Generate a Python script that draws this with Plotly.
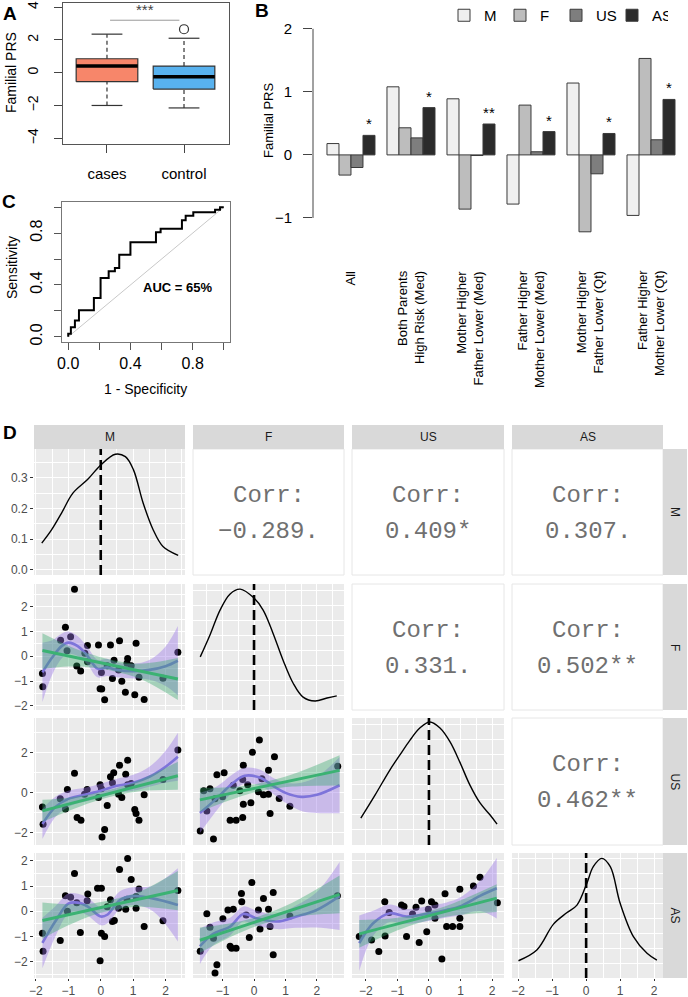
import plotly.graph_objects as go

W, H = 688, 997
FONT = "Liberation Sans, Arial, sans-serif"
MONO = "Liberation Mono, Courier New, monospace"

# ---------------- panel A: boxplot of familial PRS ----------------
a_groups = ["cases", "control"]
a_pos = [0, 1]
a_q1 = [-0.55, -1.0]
a_median = [0.4, -0.25]
a_q3 = [0.85, 0.4]
a_whisk_lo = [-2.0, -2.15]
a_whisk_hi = [2.35, 2.1]
a_outliers = [[], [2.65]]
a_colors = ["#F7866A", "#58B2EF"]
a_sig_span = [0.04, 0.94]
a_sig_y = 3.2
a_sig_text = "***"

# ---------------- panel B: grouped bars ----------------
b_groups = ["All", "Both Parents<br>High Risk (Med)", "Mother Higher<br>Father Lower (Med)",
            "Father Higher<br>Mother Lower (Med)", "Mother Higher<br>Father Lower (Qt)",
            "Father Higher<br>Mother Lower (Qt)"]
b_series = ["M", "F", "US", "AS"]
b_M = [0.18, 1.08, 0.89, -0.78, 1.14, -0.96]
b_F = [-0.32, 0.43, -0.86, 0.79, -1.22, 1.53]
b_US = [-0.20, 0.27, -0.01, 0.05, -0.30, 0.24]
b_AS = [0.31, 0.75, 0.49, 0.37, 0.34, 0.88]
b_sig = ["*", "*", "**", "*", "*", "*"]
b_colors = ["#F0F0F0", "#BDBDBD", "#7E7E7E", "#2B2B2B"]

# ---------------- panel C: ROC ----------------
roc_fpr = [0, 0.017, 0.043, 0.069, 0.165, 0.208, 0.26, 0.30, 0.328, 0.40, 0.564, 0.594,
           0.731, 0.755, 0.804, 0.944, 0.976, 1.0]
roc_tpr = [0, 0.023, 0.074, 0.126, 0.205, 0.30, 0.454, 0.505, 0.53, 0.633, 0.73, 0.807,
           0.833, 0.90, 0.933, 0.96, 0.98, 1.0]
chance = [0, 1]
auc_label = "AUC = 65%"

# ---------------- panel D: pairs plot ----------------
d_vars = ["M", "F", "US", "AS"]
corr_text = {(0, 1): "−0.289.", (0, 2): "0.409*", (0, 3): "0.307.",
             (1, 2): "0.331.", (1, 3): "0.502**", (2, 3): "0.462**"}
diag_ref = [0.0, 0.0, 0.0, 0.0]

# densities on the diagonal
dm_x = [-1.82, -1.52, -1.21, -0.86, -0.40, 0.0, 0.45, 0.76, 1.01, 1.31, 1.62, 1.92, 2.39]
dm_y = [0.087, 0.13, 0.185, 0.25, 0.295, 0.342, 0.377, 0.369, 0.326, 0.217, 0.13, 0.076, 0.047]
df_x = [-1.71, -1.40, -1.08, -0.76, -0.44, 0.0, 0.29, 0.6, 0.92, 1.24, 1.56, 1.94, 2.32, 2.63]
df_y = [0.177, 0.25, 0.333, 0.387, 0.403, 0.373, 0.333, 0.257, 0.167, 0.09, 0.043, 0.03, 0.04, 0.047]
du_x = [-2.16, -1.71, -1.24, -0.92, -0.6, -0.29, 0.03, 0.35, 0.67, 0.98, 1.3, 1.62, 1.94, 2.16]
du_y = [0.089, 0.165, 0.248, 0.298, 0.347, 0.387, 0.407, 0.387, 0.341, 0.274, 0.198, 0.139, 0.099, 0.069]
da_x = [-1.99, -1.45, -0.96, -0.57, -0.27, 0.02, 0.21, 0.46, 0.71, 1.0, 1.39, 1.79, 2.08]
da_y = [0.058, 0.094, 0.181, 0.219, 0.245, 0.318, 0.374, 0.402, 0.374, 0.251, 0.139, 0.083, 0.06]

# F vs M
fm_px = [-0.81, -1.09, -1.24, -0.93, -1.04, -1.80, -1.79, -0.74, -0.62, -0.41, -0.49, -0.41, -0.07,
         0.30, 0.58, 1.09, 0.41, 0.20, 0.02, 0.36, -0.02, 0.03, 0.12, 0.55, 0.65, 0.83, 0.81, 0.94,
         0.76, 1.05, 1.18, 1.34, 1.92, 2.38]
fm_py = [2.71, 1.17, 0.65, 0.79, 0.22, -0.70, -1.23, -0.39, -0.59, 0.44, 0.12, -0.22, 0.46,
         0.46, 0.63, 0.53, -0.16, -0.38, -0.66, -0.90, -1.31, -1.32, -1.76, -0.55, -1.01, -0.09, -0.28, -0.38,
         -1.45, -1.55, -0.85, -1.75, -0.89, 0.16]
fm_lm_x = [-1.8, 2.38]
fm_lm_y = [0.23, -0.92]
fm_band_x = [-1.8, -1.0, -0.2, 0.4, 1.2, 2.38]
fm_band_lo = [-0.51, -0.41, -0.46, -0.60, -0.90, -1.77]
fm_band_hi = [0.93, 0.43, 0.04, -0.16, -0.30, -0.07]
fm_lo_x = [-1.8, -1.5, -1.2, -1.0, -0.7, -0.4, -0.1, 0.2, 0.5, 1.0, 1.5, 2.0, 2.38]
fm_lo_y = [-0.65, -0.05, 0.42, 0.55, 0.4, 0.0, -0.5, -0.45, -0.55, -0.6, -0.55, -0.4, -0.18]
fm_lo_lo = [-1.85, -0.75, -0.08, 0.10, 0.0, -0.35, -0.85, -0.8, -0.85, -0.9, -0.95, -1.2, -1.58]
fm_lo_hi = [0.55, 0.65, 0.92, 1.0, 0.8, 0.35, -0.15, -0.1, -0.25, -0.3, -0.15, 0.4, 1.22]

# US vs M
um_px = [2.38, 0.58, 0.83, -0.81, 0.30, 0.40, 0.77, -1.03, -1.25, -1.80, -1.78, -1.09, -0.73, -0.61,
         -0.42, -0.50, -0.02, 0.02, -0.07, 0.20, 0.12, 0.04, 0.36, 0.55, 0.65, 0.83, 0.94, 1.05, 1.09,
         1.18, 1.34, 1.92]
um_py = [2.13, 1.38, 1.62, 0.97, 0.80, 1.00, 0.93, 0.17, -0.30, -0.70, -1.57, -0.80, -1.23, -1.37,
         0.17, -0.07, 0.40, 0.20, -0.23, -0.63, -1.83, -2.20, 0.50, -0.07, -0.23, 0.40, 0.47, -0.83, -1.03,
         -1.37, -0.10, 0.67]
um_lm_x = [-1.8, 2.38]
um_lm_y = [-0.9, 0.85]
um_band_x = [-1.8, -1.0, -0.2, 0.4, 1.2, 2.38]
um_band_lo = [-1.45, -0.9, -0.43, -0.16, 0.08, 0.15]
um_band_hi = [-0.35, -0.24, -0.03, 0.2, 0.64, 1.55]
um_lo_x = [-1.8, -1.4, -1.0, -0.5, 0.0, 0.5, 1.0, 1.5, 2.0, 2.38]
um_lo_y = [-1.55, -0.7, -0.3, -0.1, 0.1, 0.35, 0.5, 0.8, 1.3, 1.8]
um_lo_lo = [-2.3, -1.2, -0.7, -0.45, -0.25, 0.0, 0.1, 0.3, 0.5, 0.6]
um_lo_hi = [-0.8, -0.2, 0.1, 0.25, 0.45, 0.7, 0.9, 1.3, 2.1, 3.0]

# AS vs M
am_px = [0.83, 0.58, -0.81, 0.94, -0.10, 0.02, -1.09, -0.93, -0.40, -0.42, -0.74, 0.30, 1.18, 2.38,
         0.81, 1.09, -1.03, 0.20, 0.55, 0.77, 1.09, 0.36, 0.42, 1.34, 1.92, -1.80, -0.63, 0.02, 0.12,
         -1.25, -1.78, -0.02]
am_py = [2.09, 1.66, 1.50, 1.26, 0.91, 0.91, 0.61, 0.55, 0.68, 0.42, 0.34, 0.45, 0.88, 0.82,
         0.47, 0.58, 0.00, 0.18, 0.12, 0.08, 0.12, -0.41, -0.37, -0.61, -0.38, -0.87, -0.84, -0.87, -1.00,
         -1.16, -1.59, -1.97]
am_lm_x = [-1.8, 2.38]
am_lm_y = [-0.37, 0.82]
am_band_x = [-1.8, -1.0, -0.2, 0.4, 1.2, 2.38]
am_band_lo = [-1.09, -0.56, -0.14, 0.05, 0.18, 0.04]
am_band_hi = [0.35, 0.28, 0.32, 0.47, 0.78, 1.6]
am_lo_x = [-1.8, -1.4, -1.0, -0.7, -0.4, 0.0, 0.2, 0.6, 1.0, 1.6, 2.38]
am_lo_y = [-1.26, -0.4, 0.3, 0.34, 0.18, -0.21, -0.14, 0.45, 0.6, 0.51, 0.25]
am_lo_lo = [-2.26, -1.0, -0.1, -0.01, -0.17, -0.56, -0.49, 0.1, 0.25, 0.01, -1.2]
am_lo_hi = [-0.26, 0.2, 0.7, 0.69, 0.53, 0.14, 0.21, 0.8, 0.95, 1.01, 1.7]

# US vs F
uf_px = [0.17, -0.05, 0.65, -0.34, 0.46, 2.66, -0.66, -0.36, -0.34, -0.76, -0.57, -0.36, 0.14, 0.46,
         0.51, 0.80, 1.14, -1.71, -1.50, -1.40, -1.24, -1.18, -1.00, -0.95, -1.29, -1.60, -0.20, 0.30,
         0.25, -0.10, -0.45]
uf_py = [2.63, 2.02, 1.80, 1.38, 1.13, 1.33, 0.38, 0.67, -0.57, -1.37, -1.37, -1.23, 0.05, -0.07,
         -1.03, -0.28, -0.67, -1.90, -0.90, 0.20, -0.30, 0.90, -0.20, 1.00, -2.30, 0.10, 0.40, -0.10,
         0.70, -0.50, 0.10]
uf_lm_x = [-1.72, 2.72]
uf_lm_y = [-0.35, 1.12]
uf_band_x = [-1.72, -1.0, -0.2, 0.3, 1.2, 2.72]
uf_band_lo = [-0.95, -0.49, -0.07, 0.12, 0.31, 0.37]
uf_band_hi = [0.25, 0.27, 0.37, 0.52, 0.91, 1.87]
uf_lo_x = [-1.72, -1.2, -0.7, -0.3, 0.2, 0.6, 1.0, 1.5, 2.0, 2.72]
uf_lo_y = [-1.0, -0.3, 0.45, 0.85, 0.75, 0.35, 0.0, -0.2, -0.1, 0.38]
uf_lo_lo = [-2.0, -0.9, 0.0, 0.45, 0.35, -0.05, -0.5, -0.9, -1.0, -1.02]
uf_lo_hi = [0.0, 0.3, 0.9, 1.25, 1.15, 0.75, 0.5, 0.5, 0.8, 1.78]

# AS vs F
af_px = [-0.07, 0.61, 2.65, -0.39, -0.66, 0.14, 0.46, 0.19, -0.15, -0.71, -0.57, 0.61, 0.51, 1.14,
         -0.25, -1.71, -1.50, -1.40, -1.24, -1.18, -0.76, -0.83, -0.99, -1.29, 0.30, -0.40]
af_py = [1.14, 0.74, 0.61, 0.38, 0.08, 0.05, 0.08, -0.71, -1.04, -1.47, -1.47, -1.73, -0.61, -0.19,
         -0.15, -1.59, -0.10, -0.64, -2.45, -2.12, -1.39, 0.05, -0.30, -1.07, 0.50, 0.70]
af_lm_x = [-1.72, 2.72]
af_lm_y = [-1.15, 0.67]
af_band_x = [-1.72, -1.0, -0.2, 0.3, 1.2, 2.72]
af_band_lo = [-1.65, -1.18, -0.73, -0.5, -0.23, -0.08]
af_band_hi = [-0.65, -0.53, -0.33, -0.14, 0.33, 1.42]
af_lo_x = [-1.72, -1.3, -0.76, -0.34, 0.08, 0.72, 1.35, 1.99, 2.72]
af_lo_y = [-1.39, -0.9, -0.61, -0.11, -0.28, -0.41, -0.21, 0.05, 0.6]
af_lo_lo = [-2.09, -1.35, -0.96, -0.41, -0.58, -0.71, -0.66, -0.65, -0.75]
af_lo_hi = [-0.69, -0.45, -0.26, 0.19, 0.02, -0.11, 0.24, 0.75, 1.95]

# AS vs US
au_px = [-2.21, -1.82, -1.59, -1.40, -1.39, -1.26, -0.87, -0.79, -0.71, -0.52, -0.41, -0.31, -0.23,
         -0.07, -0.02, 0.08, 0.19, 0.19, 0.41, 0.51, 0.56, 0.75, 0.98, 1.62, 1.41, 2.17, 0.98, 0.98]
au_py = [-1.00, -1.14, -1.60, 0.38, -0.98, -0.05, 0.25, 0.19, -1.00, -0.11, 0.16, -1.24, 0.41,
         -0.81, 0.08, 0.38, 0.25, -0.28, -1.90, 0.69, -0.61, -0.61, 0.87, 1.35, 1.00, 0.34, -0.28, -0.61]
au_lm_x = [-2.21, 2.15]
au_lm_y = [-0.9, 0.52]
au_band_x = [-2.21, -1.4, -0.6, 0.0, 0.8, 2.15]
au_band_lo = [-1.45, -0.97, -0.58, -0.36, -0.17, -0.03]
au_band_hi = [-0.35, -0.31, -0.18, 0.0, 0.33, 1.07]
au_lo_x = [-2.21, -1.77, -1.24, -0.71, 0.03, 0.56, 0.98, 1.62, 2.15]
au_lo_y = [-1.27, -0.48, -0.08, -0.21, -0.08, 0.05, 0.19, 0.61, 0.91]
au_lo_lo = [-2.37, -0.98, -0.43, -0.51, -0.38, -0.25, -0.16, 0.01, -0.29]
au_lo_hi = [-0.17, 0.02, 0.27, 0.09, 0.22, 0.35, 0.54, 1.21, 2.11]


def xd(a, b):
    return [a / W, b / W]


def yd(top, bottom):
    return [1 - bottom / H, 1 - top / H]


def py(p):
    return 1 - p / H


def label(xp, yp, text, size, angle=0, **kw):
    # paper-placed text, centred on the given pixel position
    return dict(x=xp / W, y=py(yp), xref="paper", yref="paper", text=text, textangle=angle,
                xanchor="center", yanchor="middle", showarrow=False, font=dict(size=size, **kw))


fig = go.Figure()
layout = dict(width=W, height=H, margin=dict(l=0, r=0, t=0, b=0, autoexpand=False), paper_bgcolor="white",
              plot_bgcolor="white", font=dict(family=FONT, color="black"),
              barmode="group", bargap=0.2, bargroupgap=0)
shapes, annos = [], []

# ---------- A ----------
for i, c in enumerate(a_pos):
    fig.add_trace(go.Scatter(x=[c - 0.4, c + 0.4, c + 0.4, c - 0.4, c - 0.4],
                             y=[a_q1[i], a_q1[i], a_q3[i], a_q3[i], a_q1[i]], mode="lines",
                             fill="toself", fillcolor=a_colors[i], line=dict(color="#333", width=1.2),
                             xaxis="x", yaxis="y", showlegend=False, hoverinfo="skip"))
    fig.add_trace(go.Scatter(x=[c - 0.4, c + 0.4], y=[a_median[i]] * 2, mode="lines",
                             line=dict(color="black", width=3.5), xaxis="x", yaxis="y", showlegend=False))
    for lo, hi in ((a_whisk_lo[i], a_q1[i]), (a_q3[i], a_whisk_hi[i])):
        fig.add_trace(go.Scatter(x=[c, c], y=[lo, hi], mode="lines",
                                 line=dict(color="#333", width=1.2, dash="4px,3px"),
                                 xaxis="x", yaxis="y", showlegend=False))
    for v in (a_whisk_lo[i], a_whisk_hi[i]):
        fig.add_trace(go.Scatter(x=[c - 0.2, c + 0.2], y=[v, v], mode="lines",
                                 line=dict(color="#333", width=1.2), xaxis="x", yaxis="y", showlegend=False))
    if a_outliers[i]:
        fig.add_trace(go.Scatter(x=[c] * len(a_outliers[i]), y=a_outliers[i], mode="markers",
                                 marker=dict(symbol="circle-open", size=9, color="#333", line=dict(width=1.2)),
                                 xaxis="x", yaxis="y", showlegend=False))
fig.add_trace(go.Scatter(x=a_sig_span, y=[a_sig_y] * 2, mode="lines", line=dict(color="#999", width=1),
                         xaxis="x", yaxis="y", showlegend=False))
annos.append(dict(x=sum(a_sig_span) / 2, y=a_sig_y, xref="x", yref="y", text=a_sig_text, showarrow=False,
                  yanchor="bottom", font=dict(size=15, color="#444")))
layout["xaxis"] = dict(domain=xd(63, 229), anchor="y", range=[-0.571, 1.584], tickvals=a_pos,
                       ticktext=a_groups, ticks="outside", ticklen=8, tickcolor="#444", showline=True,
                       mirror=True, linecolor="#555", showgrid=False, zeroline=False,
                       tickfont=dict(size=15), ticklabelstandoff=8)
layout["yaxis"] = dict(domain=yd(3, 144), anchor="x", range=[-4.35, 4.25], tickvals=[-4, -2, 0, 2, 4],
                       ticks="outside", ticklen=8, tickcolor="#444", showline=True, mirror=True,
                       linecolor="#555", showgrid=False, zeroline=False, tickangle=-90,
                       tickfont=dict(size=14), ticklabelstandoff=10)
annos.append(label(11, 73, "Familial PRS", 14, -90))

# ---------- B ----------
b_vals = [b_M, b_F, b_US, b_AS]
for k, name in enumerate(b_series):
    fig.add_trace(go.Bar(x=list(range(len(b_groups))), y=b_vals[k], name=name,
                         marker=dict(color=b_colors[k], line=dict(color="#3A3A3A", width=1)),
                         text=b_sig if name == "AS" else None, textposition="outside",
                         textfont=dict(size=15, color="black"), cliponaxis=False,
                         xaxis="x2", yaxis="y2", showlegend=True))
layout["xaxis2"] = dict(domain=xd(313, 684), anchor="y2", range=[-0.633, 5.55], showticklabels=False,
                        showgrid=False, zeroline=False, showline=False, ticks="")
layout["yaxis2"] = dict(domain=yd(20, 240), anchor="x2", range=[-1.35, 2.14], tickvals=[-1, 0, 1, 2],
                        ticks="outside", ticklen=9, tickcolor="#444", showline=False, showgrid=False,
                        zeroline=False, tickfont=dict(size=15), ticklabelstandoff=8)
shapes.append(dict(type="line", xref="x2 domain", yref="y2", x0=0, x1=0, y0=-1, y1=2,
                   line=dict(color="#444", width=1)))
annos.append(label(268, 121, "Familial PRS", 13, -90))
for i, g in enumerate(b_groups):
    annos.append(dict(x=i, xref="x2", y=py(268), yref="paper", text=g, textangle=-90, xanchor="center",
                      yanchor="top", align="right", showarrow=False, font=dict(size=13)))
layout["legend"] = dict(orientation="h", x=444 / W, y=py(-1), xanchor="left", yanchor="top",
                        font=dict(size=15), itemwidth=30, entrywidth=11, entrywidthmode="pixels",
                        bgcolor="rgba(0,0,0,0)", traceorder="normal")

# ---------- C ----------
fig.add_trace(go.Scatter(x=chance, y=chance, mode="lines", line=dict(color="#C8C8C8", width=1),
                         xaxis="x3", yaxis="y3", showlegend=False))
fig.add_trace(go.Scatter(x=roc_fpr, y=roc_tpr, mode="lines", line=dict(color="black", width=2, shape="vh"),
                         xaxis="x3", yaxis="y3", showlegend=False))
annos.append(dict(x=0.705, y=0.377, xref="x3", yref="y3", text="<b>" + auc_label + "</b>", showarrow=False,
                  font=dict(size=13)))
cticks = [0, 0.2, 0.4, 0.6, 0.8, 1.0]
cticktext = ["0.0", "", "0.4", "", "0.8", ""]
layout["xaxis3"] = dict(domain=xd(62, 230), anchor="y3", range=[-0.04, 1.04], tickvals=cticks,
                        ticktext=cticktext, ticks="outside", ticklen=7, tickcolor="#555", showline=True,
                        mirror=True, linecolor="#777", showgrid=False, zeroline=False,
                        tickfont=dict(size=16), ticklabelstandoff=0)
layout["yaxis3"] = dict(domain=yd(202, 342), anchor="x3", range=[-0.04, 1.04], tickvals=cticks,
                        ticktext=cticktext, ticks="outside", ticklen=7, tickcolor="#555", showline=True,
                        mirror=True, linecolor="#777", showgrid=False, zeroline=False, tickangle=-90,
                        tickfont=dict(size=16), ticklabelstandoff=6)
annos.append(label(12, 268, "Sensitivity", 14, -90))
annos.append(label(145, 389, "1 - Specificity", 14))

# ---------- D ----------
col_px = [(34, 185), (193, 344), (352, 504), (512, 663)]
row_px = [(449, 575), (584, 710), (718, 845), (853, 978)]
col_range = [[-2.06, 2.6], [-1.94, 2.86], [-2.44, 2.38], [-2.18, 2.26]]
row_range = [None, [-2.17, 2.92], [-2.6, 3.73], [-2.65, 2.31]]
row_dtick = [None, 1, 2, 1]
diag_range = [[-0.017, 0.394], [0, 0.42], [0, 0.42], [0, 0.42]]
diag_curves = [(dm_x, dm_y), (df_x, df_y), (du_x, du_y), (da_x, da_y)]
lower = {
    (1, 0): (fm_px, fm_py, fm_lm_x, fm_lm_y, fm_band_x, fm_band_lo, fm_band_hi, fm_lo_x, fm_lo_y, fm_lo_lo, fm_lo_hi),
    (2, 0): (um_px, um_py, um_lm_x, um_lm_y, um_band_x, um_band_lo, um_band_hi, um_lo_x, um_lo_y, um_lo_lo, um_lo_hi),
    (3, 0): (am_px, am_py, am_lm_x, am_lm_y, am_band_x, am_band_lo, am_band_hi, am_lo_x, am_lo_y, am_lo_lo, am_lo_hi),
    (2, 1): (uf_px, uf_py, uf_lm_x, uf_lm_y, uf_band_x, uf_band_lo, uf_band_hi, uf_lo_x, uf_lo_y, uf_lo_lo, uf_lo_hi),
    (3, 1): (af_px, af_py, af_lm_x, af_lm_y, af_band_x, af_band_lo, af_band_hi, af_lo_x, af_lo_y, af_lo_lo, af_lo_hi),
    (3, 2): (au_px, au_py, au_lm_x, au_lm_y, au_band_x, au_band_lo, au_band_hi, au_lo_x, au_lo_y, au_lo_lo, au_lo_hi),
}
TICKF = dict(size=12, color="#4D4D4D")
PURPLE_FILL = "rgba(155,120,230,0.42)"
GREEN_FILL = "rgba(50,165,105,0.38)"

for r in range(4):
    for c in range(4):
        x0, x1 = col_px[c]
        t0, t1 = row_px[r]
        if c > r:
            shapes.append(dict(type="rect", xref="paper", yref="paper", x0=x0 / W, x1=x1 / W, y0=py(t1),
                               y1=py(t0), fillcolor="white", line=dict(color="#E6E6E6", width=1)))
            cy = (t0 + t1) / 2
            annos.append(label((x0 + x1) / 2, cy - 17, "Corr:", 24, family=MONO, color="#707070"))
            annos.append(label((x0 + x1) / 2, cy + 19, corr_text[(r, c)], 24, family=MONO, color="#707070"))
            continue
        n = 4 + r * 4 + c
        xa, ya = f"x{n}", f"y{n}"
        if r == c:
            yr = diag_range[r]
            ydt = 0.1
        else:
            yr = row_range[r]
            ydt = row_dtick[r]
        layout[f"xaxis{n}"] = dict(domain=xd(x0, x1), anchor=ya, range=col_range[c], tick0=0, dtick=1,
                                   showgrid=True, gridcolor="white", gridwidth=1.3, zeroline=False,
                                   showline=False, showticklabels=(r == 3), ticks="outside" if r == 3 else "",
                                   ticklen=2, tickcolor="#333", tickfont=TICKF, ticklabelstandoff=0,
                                   minor=dict(dtick=0.5, tick0=0, showgrid=True, gridcolor="white",
                                              gridwidth=0.6))
        show_y = c == 0
        layout[f"yaxis{n}"] = dict(domain=yd(t0, t1), anchor=xa, range=yr, tick0=0, dtick=ydt,
                                   showgrid=True, gridcolor="white", gridwidth=1.3, zeroline=False,
                                   showline=False, showticklabels=show_y, ticks="outside" if show_y else "",
                                   ticklen=3, tickcolor="#333", tickfont=TICKF,
                                   tickformat=".1f" if r == 0 else "",
                                   minor=dict(dtick=ydt / 2, tick0=0, showgrid=True, gridcolor="white",
                                              gridwidth=0.6))
        shapes.append(dict(type="rect", xref=f"{xa} domain", yref=f"{ya} domain", x0=0, x1=1, y0=0, y1=1,
                           fillcolor="#EBEBEB", line=dict(width=0), layer="below"))
        if r == c:
            dx, dy = diag_curves[r]
            fig.add_trace(go.Scatter(x=dx, y=dy, mode="lines", line=dict(color="black", width=1.4,
                                     shape="spline"), xaxis=xa, yaxis=ya, showlegend=False))
            shapes.append(dict(type="line", xref=xa, yref=f"{ya} domain", x0=diag_ref[r], x1=diag_ref[r],
                               y0=0, y1=1, line=dict(color="black", width=2.6, dash="10px,5px")))
        else:
            (pxs, pys, lmx, lmy, bx, blo, bhi, lx, ly, llo, lhi) = lower[(r, c)]
            fig.add_trace(go.Scatter(x=pxs, y=pys, mode="markers", marker=dict(color="black", size=7),
                                     xaxis=xa, yaxis=ya, showlegend=False))
            fig.add_trace(go.Scatter(x=lx, y=llo, mode="lines", line=dict(width=0, shape="spline"),
                                     xaxis=xa, yaxis=ya, showlegend=False))
            fig.add_trace(go.Scatter(x=lx, y=lhi, mode="lines", line=dict(width=0, shape="spline"),
                                     fill="tonexty", fillcolor=PURPLE_FILL, xaxis=xa, yaxis=ya,
                                     showlegend=False))
            fig.add_trace(go.Scatter(x=lx, y=ly, mode="lines", line=dict(color="#7E74DA", width=2.6,
                                     shape="spline"), xaxis=xa, yaxis=ya, showlegend=False))
            fig.add_trace(go.Scatter(x=bx, y=blo, mode="lines", line=dict(width=0, shape="spline"),
                                     xaxis=xa, yaxis=ya, showlegend=False))
            fig.add_trace(go.Scatter(x=bx, y=bhi, mode="lines", line=dict(width=0, shape="spline"),
                                     fill="tonexty", fillcolor=GREEN_FILL, xaxis=xa, yaxis=ya,
                                     showlegend=False))
            fig.add_trace(go.Scatter(x=lmx, y=lmy, mode="lines", line=dict(color="#3BB273", width=3),
                                     xaxis=xa, yaxis=ya, showlegend=False))

# strips
for c, v in enumerate(d_vars):
    x0, x1 = col_px[c]
    shapes.append(dict(type="rect", xref="paper", yref="paper", x0=x0 / W, x1=x1 / W, y0=py(449),
                       y1=py(425), fillcolor="#D9D9D9", line=dict(width=0)))
    annos.append(label((x0 + x1) / 2, 437, v, 12, color="#1A1A1A"))
for r, v in enumerate(d_vars):
    t0, t1 = row_px[r]
    shapes.append(dict(type="rect", xref="paper", yref="paper", x0=663 / W, x1=687 / W, y0=py(t1),
                       y1=py(t0), fillcolor="#D9D9D9", line=dict(width=0)))
    annos.append(label(675, (t0 + t1) / 2, v, 12, 90, color="#1A1A1A"))

# panel letters
for lab, lx_, ly_ in (("A", 10, 13), ("B", 262, 11), ("C", 9, 202), ("D", 10, 432)):
    annos.append(label(lx_, ly_, "<b>" + lab + "</b>", 19))

layout["shapes"] = shapes
layout["annotations"] = annos
fig.update_layout(**layout)
# the default page has an 8px body margin; drop it so the figure sits at the window origin
fig.write_html("out.html", config={"displayModeBar": False},
               post_script="document.body.style.margin='0';document.body.style.overflow='hidden';")
